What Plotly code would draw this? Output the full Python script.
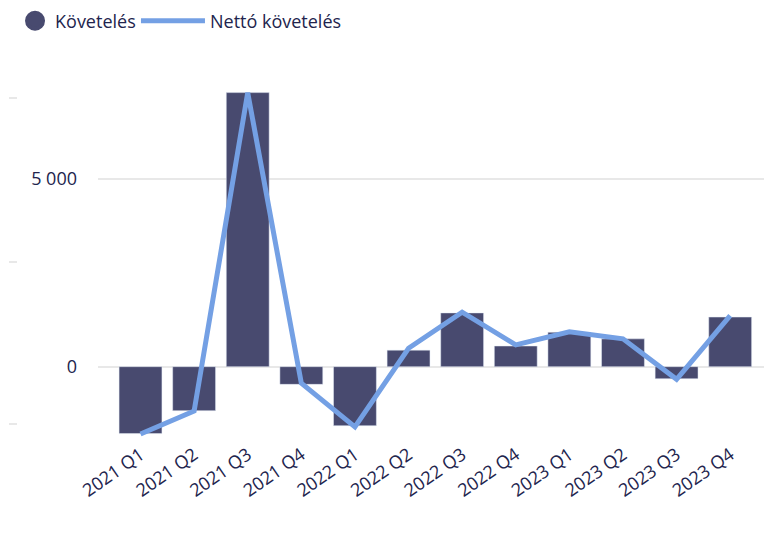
import plotly.graph_objects as go

quarters = ["2021 Q1", "2021 Q2", "2021 Q3", "2021 Q4",
            "2022 Q1", "2022 Q2", "2022 Q3", "2022 Q4",
            "2023 Q1", "2023 Q2", "2023 Q3", "2023 Q4"]
kovetelés = [-1780, -1170, 7290, -470, -1570, 440, 1430, 550, 915, 740, -320, 1320]
netto = [-1790, -1180, 7290, -440, -1600, 490, 1450, 580, 930, 740, -335, 1360]
# short marks on the far left (unlabelled secondary scale)
side_ticks = [7150, 2790, -1525]

bar_color = "#484a6f"
line_color = "#74a0e4"
text_color = "#22244d"
yrange = [-1950, 8157]

fig = go.Figure()

fig.add_trace(go.Bar(
    x=quarters, y=kovetelés, name="Követelés",
    marker_color=bar_color, showlegend=False,
))
# legend entry with round marker
fig.add_trace(go.Scatter(
    x=[None], y=[None], mode="markers", name="Követelés",
    marker=dict(symbol="circle", size=16, color=bar_color,
                line=dict(color=bar_color, width=4)),
    legend="legend",
))
fig.add_trace(go.Scatter(
    x=quarters, y=netto, name="Nettó követelés",
    mode="lines", line=dict(color=line_color, width=5),
    legend="legend2",
))
# dummy trace to carry the left-edge tick marks
fig.add_trace(go.Scatter(
    x=[None], y=[None], yaxis="y2", showlegend=False, hoverinfo="skip",
))

fig.update_layout(
    width=764, height=534,
    margin=dict(l=0, r=0, t=52, b=102, autoexpand=False),
    paper_bgcolor="white", plot_bgcolor="white",
    font=dict(family="Open Sans", size=18, color=text_color),
    separators=", ",
    bargap=0.2,
    showlegend=True,
    legend=dict(orientation="h", x=0.0092, y=1.1026, xanchor="left", yanchor="middle",
                font=dict(size=18), itemsizing="trace", itemwidth=30),
    legend2=dict(orientation="h", x=0.1675, y=1.1026, xanchor="left", yanchor="middle",
                 font=dict(size=18), itemwidth=64),
    xaxis=dict(domain=[90 / 764, 1], range=[-0.793, 11.78], tickangle=-35,
               showgrid=False, showline=False, zeroline=False, ticks="",
               automargin=False),
    yaxis=dict(range=yrange, tickvals=[0, 5000], tickformat=",",
               showgrid=True, gridcolor="#e8e8e8", gridwidth=2,
               zeroline=False, showline=False, ticks="", ticklabelstandoff=20,
               automargin=False),
    yaxis2=dict(range=yrange, overlaying="y", anchor="free", position=0, side="left",
                tickvals=side_ticks, showticklabels=False, ticks="inside",
                ticklen=8, tickwidth=2, tickcolor="#e8e8e8",
                showgrid=False, zeroline=False, showline=False, automargin=False),
)

fig.write_html("out.html")
